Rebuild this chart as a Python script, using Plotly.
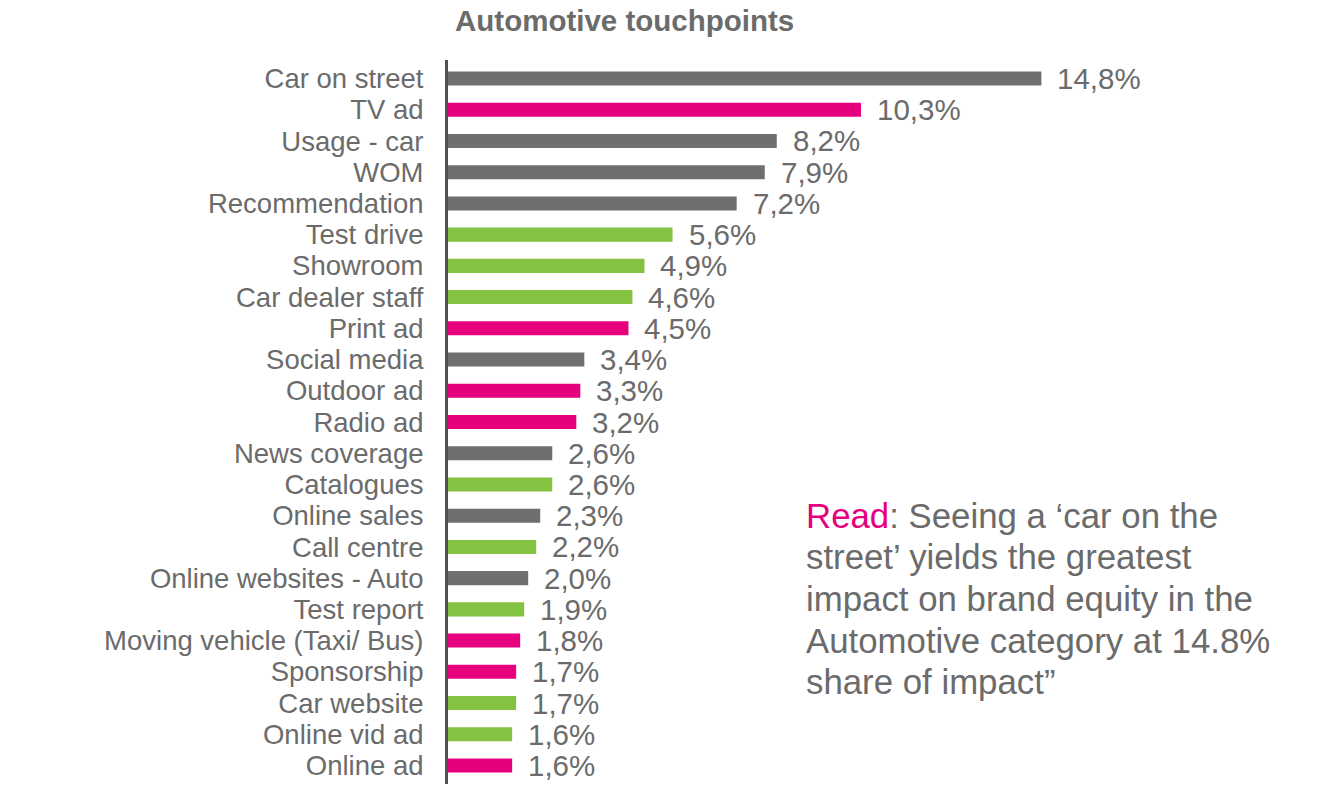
import plotly.graph_objects as go

categories = ["Car on street", "TV ad", "Usage - car", "WOM", "Recommendation", "Test drive",
              "Showroom", "Car dealer staff", "Print ad", "Social media", "Outdoor ad", "Radio ad",
              "News coverage", "Catalogues", "Online sales", "Call centre", "Online websites - Auto",
              "Test report", "Moving vehicle (Taxi/ Bus)", "Sponsorship", "Car website",
              "Online vid ad", "Online ad"]
values = [14.8, 10.3, 8.2, 7.9, 7.2, 5.6, 4.9, 4.6, 4.5, 3.4, 3.3, 3.2, 2.6, 2.6, 2.3, 2.2,
          2.0, 1.9, 1.8, 1.7, 1.7, 1.6, 1.6]
groups = ["grey", "pink", "grey", "grey", "grey", "green", "green", "green", "pink", "grey",
          "pink", "pink", "grey", "green", "grey", "green", "grey", "green", "pink", "pink",
          "green", "green", "pink"]
title_text = "Automotive touchpoints"
note_lines = ["<span style='color:#e6007e'>Read</span>: Seeing a \u2018car on the",
              "street\u2019 yields the greatest",
              "impact on brand equity in the",
              "Automotive category at 14.8%",
              "share of impact\u201d"]

palette = {"grey": "#6f6f6f", "pink": "#e6007e", "green": "#84c241"}
text_color = "#6b6b6b"
font_family = "Liberation Sans, Arial, sans-serif"

fig = go.Figure()
fig.add_trace(go.Bar(
    x=values, y=categories, orientation="h",
    marker=dict(color=[palette[g] for g in groups], line=dict(width=0)),
    width=0.45, hoverinfo="skip",
))

annotations = []
for c, v in zip(categories, values):
    annotations.append(dict(
        x=v, y=c, xref="x", yref="y", text=f"{v:.1f}%".replace(".", ","),
        showarrow=False, xanchor="left", yanchor="middle", xshift=14,
        font=dict(size=29.5, color=text_color, family=font_family),
    ))

annotations.append(dict(
    x=0.21, y=1.054, xref="paper", yref="paper", text=f"<b>{title_text}</b>",
    showarrow=False, xanchor="center", yanchor="middle",
    font=dict(size=29.5, color=text_color, family=font_family),
))

for i, line in enumerate(note_lines):
    annotations.append(dict(
        x=0.424, y=0.3715 - i * 0.0576, xref="paper", yref="paper", text=line,
        showarrow=False, xanchor="left", yanchor="middle",
        font=dict(size=34.8, color=text_color, family=font_family),
    ))

fig.update_layout(
    width=1325, height=785,
    margin=dict(l=448, r=37, t=60, b=1),
    paper_bgcolor="white", plot_bgcolor="white",
    showlegend=False,
    annotations=annotations,
    xaxis=dict(range=[0, 20.95], showgrid=False, zeroline=False, showticklabels=False,
               showline=False, fixedrange=True),
    yaxis=dict(categoryorder="array", categoryarray=categories[::-1],
               tickmode="array", tickvals=categories, ticktext=categories,
               showgrid=False, zeroline=False, showline=True, linecolor="#505050",
               linewidth=3, ticks="", ticklabelstandoff=16,
               tickfont=dict(size=27.5, color=text_color, family=font_family),
               fixedrange=True),
)

fig.write_html("out.html")
